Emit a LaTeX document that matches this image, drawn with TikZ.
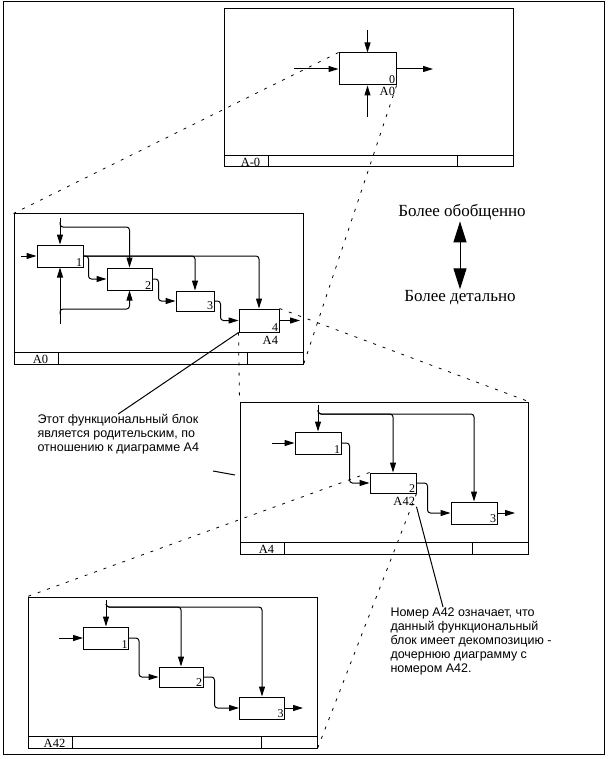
\documentclass[tikz,border=0pt]{standalone}
\usepackage{fontspec}
\setmainfont{Liberation Serif}
\newfontfamily\notefont{Liberation Sans}
\usetikzlibrary{positioning,arrows.meta,calc}

\begin{document}
\begin{tikzpicture}[x=1pt, y=-1pt, line width=1pt,
      sheet/.style={rectangle, draw, inner sep=0pt, minimum width=289pt},
      func/.style={rectangle, draw, fill=white, inner sep=0pt, minimum width=46pt, minimum height=22pt},
      num/.style={anchor=south east, inner sep=1pt, font=\fontsize{12}{12}\selectfont},
      ref/.style={anchor=north east, inner sep=1pt, font=\fontsize{12.5}{12.5}\selectfont},
      foot/.style={anchor=south, inner sep=0.5pt, font=\fontsize{12.5}{12.5}\selectfont},
      arr/.style={-{Triangle[length=10pt,width=6pt]}, rounded corners=3pt},
      link/.style={line width=0.8pt, dash pattern=on 3pt off 7pt},
      note/.style={align=left, inner sep=0pt, font=\notefont\fontsize{12.5}{14}\selectfont},
      level/.style={inner sep=1pt, font=\fontsize{17}{18}\selectfont}
      ]
      \useasboundingbox (0,0) rectangle (607,759);
      \draw[line width=1pt] (3,2) rectangle (604,754);

      % sheets
      \node[sheet, minimum height=158pt] (SHTOP) at (368.5,88) {};
      \node[sheet, minimum height=150pt] (SHA0) at (158.5,289) {};
      \node[sheet, minimum width=288pt, minimum height=152pt] (SHA4) at (384,478) {};
      \node[sheet, minimum height=151pt] (SHA42) at (172.5,672.5) {};
      \foreach \s/\t in {SHTOP/A-0, SHA0/A0, SHA4/A4, SHA42/A42} {
        \draw ([yshift=12pt]\s.south west) -- ([yshift=12pt]\s.south east);
        \draw ([xshift=45pt]\s.south west) -- ([xshift=45pt,yshift=12pt]\s.south west);
        \draw ([xshift=-56pt]\s.south east) -- ([xshift=-56pt,yshift=12pt]\s.south east);
        \node[foot] (\s-lbl) at ([xshift=27pt]\s.south west) {\t};
      }

      % A-0
      \node[func, minimum width=57pt, minimum height=32pt] (BOX0) at (367.5,69) {};
      \node[num] (NUM0) at (BOX0.south east) {0};
      \node[ref] (REF0) at (BOX0.south east) {A0};
      \coordinate (TIN) at (294,69);
      \coordinate (TCTL) at (367.5,30);
      \coordinate (TMECH) at (367.5,117);
      \coordinate (TOUT) at (433,69);
      \draw[arr] (TIN) -- (BOX0.west);
      \draw[arr] (TCTL) -- (BOX0.north);
      \draw[arr] (TMECH) -- (BOX0.south);
      \draw[arr] (BOX0.east) -- (TOUT);

      % A0
      \node[func] (A0B1) at (60,256) {};
      \node[func, minimum width=45pt] (A0B2) at (129.5,279) {};
      \node[func, minimum width=38pt, minimum height=20pt] (A0B3) at (195,301) {};
      \node[func, minimum width=40pt, minimum height=23pt] (A0B4) at (259,320.5) {};
      \node[num] (A0N1) at (A0B1.south east) {1};
      \node[num] (A0N2) at (A0B2.south east) {2};
      \node[num] (A0N3) at (A0B3.south east) {3};
      \node[num] (A0N4) at (A0B4.south east) {4};
      \node[ref, yshift=-2pt] (REFA4) at (A0B4.south east) {A4};
      \coordinate (A0IN) at (21,256);
      \coordinate (A0CTL) at (60,218);
      \coordinate (A0CTLB) at (60,222);
      \coordinate (A0MECH) at (60,324);
      \coordinate (A0MECHB) at (60,314);
      \coordinate (A0OUT) at (300,320.5);
      \draw[arr] (A0IN) -- (A0B1.west);
      \draw[arr] (A0CTL) -- (A0B1.north);
      \draw[arr] (A0CTLB) |- ++(30,5) -| (A0B2.north);
      \draw[arr] (A0MECH) -- (A0B1.south);
      \draw[arr] (A0MECHB) |- ++(30,-5) -| (A0B2.south);
      \draw[arr] (A0B1.east) -| (A0B4.north);
      \draw[arr] (A0B1.east) -| (A0B3.north);
      \draw[arr] (A0B1.east) -- ++(5,0) |- (A0B2.west);
      \draw[arr] (A0B2.east) -- ++(6,0) |- (A0B3.west);
      \draw[arr] (A0B3.east) -- ++(6,0) |- (A0B4.west);
      \draw[arr] (A0B4.east) -- (A0OUT);

      % A4
      \node[func] (A4B1) at (318,443) {};
      \node[func, minimum height=20pt] (A4B2) at (393,483) {};
      \node[func] (A4B3) at (474,513) {};
      \node[num] (A4N1) at (A4B1.south east) {1};
      \node[num] (A4N2) at (A4B2.south east) {2};
      \node[num] (A4N3) at (A4B3.south east) {3};
      \node[ref, yshift=-2pt] (REFA42) at (A4B2.south east) {A42};
      \coordinate (A4IN) at (272,443);
      \coordinate (A4CTL) at (318,405);
      \coordinate (A4CTLB) at (318,410);
      \coordinate (A4OUT) at (515,513);
      \draw[arr] (A4IN) -- (A4B1.west);
      \draw[arr] (A4CTL) -- (A4B1.north);
      \draw[arr] (A4CTLB) |- ++(30,4) -| (A4B2.north);
      \draw[arr] (A4CTLB) |- ++(30,4) -| (A4B3.north);
      \draw[arr] (A4B1.east) -- ++(8,0) |- (A4B2.west);
      \draw[arr] (A4B2.east) -- ++(11,0) |- (A4B3.west);
      \draw[arr] (A4B3.east) -- (A4OUT);

      % A42
      \node[func, minimum width=45pt] (A42B1) at (106,638) {};
      \node[func, minimum width=44pt, minimum height=20pt] (A42B2) at (181,677) {};
      \node[func, minimum width=45pt] (A42B3) at (262,708) {};
      \node[num] (A42N1) at (A42B1.south east) {1};
      \node[num] (A42N2) at (A42B2.south east) {2};
      \node[num] (A42N3) at (A42B3.south east) {3};
      \coordinate (A42IN) at (59,638);
      \coordinate (A42CTL) at (106,600);
      \coordinate (A42CTLB) at (106,604);
      \coordinate (A42OUT) at (303,708);
      \draw[arr] (A42IN) -- (A42B1.west);
      \draw[arr] (A42CTL) -- (A42B1.north);
      \draw[arr] (A42CTLB) |- ++(30,3) -| (A42B2.north);
      \draw[arr] (A42CTLB) |- ++(30,3) -| (A42B3.north);
      \draw[arr] (A42B1.east) -- ++(10,0) |- (A42B2.west);
      \draw[arr] (A42B2.east) -- ++(11,0) |- (A42B3.west);
      \draw[arr] (A42B3.east) -- (A42OUT);

      % decomposition links
      \draw[link] (BOX0.north west) -- (SHA0.north west);
      \draw[link] (BOX0.south east) -- (SHA0.south east);
      \draw[link] (A0B4.south west) -- (SHA4.north west);
      \draw[link] (A0B4.north east) -- (SHA4.north east);
      \draw[link] (A4B2.north west) -- (SHA42.north west);
      \draw[link] (A4B2.south east) -- (SHA42.south east);

      % notes
      \node[level] (GEN) at (462,212) {Более обобщенно};
      \node[level] (DET) at (460,298) {Более детально};
      \draw[line width=1pt, {Triangle[length=21pt,width=13pt]}-{Triangle[length=21pt,width=13pt]}] (GEN.south -| DET.north) -- (DET.north);
      \node[note, anchor=north west] (TXTA4) at (37,414) {Этот функциональный блок\\является родительским, по\\отношению к диаграмме А4};
      \node[note, anchor=north west] (TXTA42) at (390,607) {Номер А42 означает, что\\данный функциональный\\блок имеет декомпозицию -\\дочернюю диаграмму с\\номером А42.};
      \coordinate (LEADA) at (213,471);
      \coordinate (LEADB) at (235,475);
      \draw (A0B4.south west) -- (TXTA4.north);
      \draw (LEADA) -- (LEADB);
      \draw (REFA42.south east) -- ($(TXTA42.north west)+(53,0)$);
    \end{tikzpicture}
\end{document}
